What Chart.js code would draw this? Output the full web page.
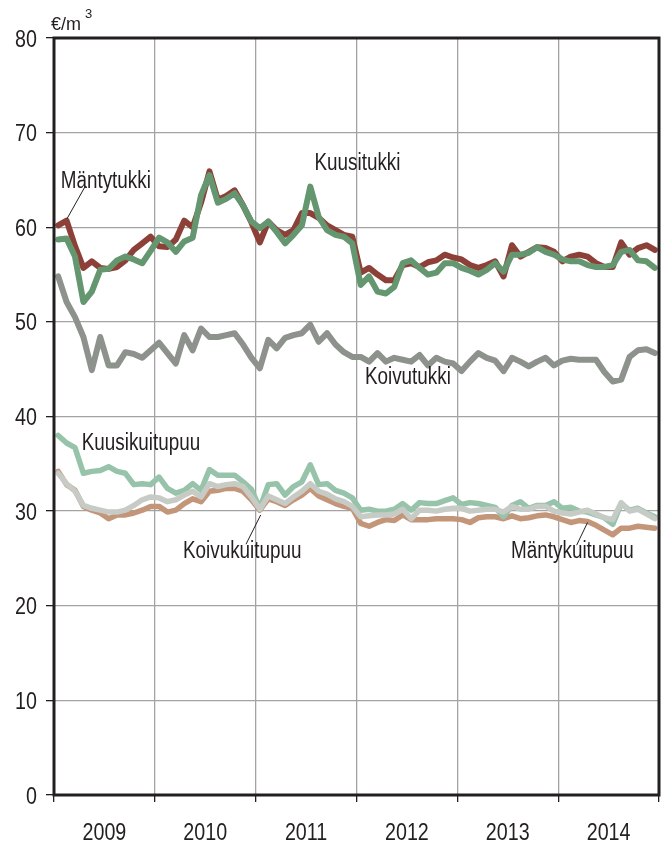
<!DOCTYPE html>
<html>
<head>
<meta charset="utf-8">
<title>Puun hinnat</title>
<script src="https://cdn.jsdelivr.net/npm/chart.js@4.4.1/dist/chart.umd.min.js"></script>
<style>
  html, body { margin: 0; padding: 0; background: #fff; }
  #wrap { width: 669px; height: 843px; }
</style>
</head>
<body>
<div id="wrap"><canvas id="chart"></canvas></div>
<script>
/* ------------------------------------------------------------- */
/* DATA (€/m3, monthly 2009–2014)                                */
/* ------------------------------------------------------------- */
const years = ['2009', '2010', '2011', '2012', '2013', '2014'];
const months = years.flatMap(y => ['01','02','03','04','05','06','07','08','09','10','11','12'].map(m => y + '-' + m));
const yTicks = [0, 10, 20, 30, 40, 50, 60, 70, 80];

const mantytukki = [
  60.2, 60.7, 58.0, 55.7, 56.4, 55.7, 55.6, 55.8, 56.5, 57.6, 58.3, 59.0,
  58.0, 57.9, 58.7, 60.7, 60.0, 62.6, 65.9, 62.9, 63.3, 63.9, 62.3, 60.5,
  58.4, 60.6, 59.7, 59.2, 59.7, 61.5, 61.5, 61.0, 60.2, 59.7, 59.2, 59.0,
  55.2, 55.7, 55.0, 54.4, 54.4, 56.0, 56.2, 55.8, 56.3, 56.5, 57.1, 56.8,
  56.6, 56.0, 55.7, 56.0, 56.4, 54.8, 58.1, 56.9, 57.4, 57.9, 57.8, 57.4,
  56.4, 56.9, 57.1, 56.9, 56.2, 55.8, 55.8, 58.4, 57.1, 57.8, 58.1, 57.6
];
const kuusitukki = [
  58.7, 58.8, 56.9, 52.1, 53.2, 55.5, 55.6, 56.5, 56.9, 56.6, 56.2, 57.5,
  58.9, 58.4, 57.4, 58.5, 58.9, 63.4, 65.5, 62.6, 63.0, 63.6, 62.3, 60.6,
  59.9, 60.6, 59.5, 58.3, 59.2, 60.2, 64.3, 61.1, 59.7, 59.2, 59.0, 58.3,
  53.9, 54.8, 53.2, 53.0, 53.7, 56.2, 56.5, 55.7, 55.0, 55.2, 56.2, 56.2,
  55.7, 55.4, 55.0, 55.5, 56.2, 55.3, 57.1, 57.1, 57.3, 57.9, 57.4, 57.1,
  56.6, 56.4, 56.4, 56.0, 55.8, 55.8, 56.0, 57.4, 57.6, 56.5, 56.4, 55.7
];
const koivutukki = [
  54.8, 52.1, 50.5, 48.4, 44.9, 48.4, 45.4, 45.4, 46.8, 46.6, 46.2, 47.0,
  47.8, 46.7, 45.6, 48.6, 47.0, 49.3, 48.4, 48.4, 48.6, 48.8, 47.6, 46.2,
  45.1, 48.1, 47.2, 48.3, 48.6, 48.8, 49.7, 47.9, 48.8, 47.6, 46.8, 46.3,
  46.3, 45.8, 46.7, 45.8, 46.2, 46.0, 45.8, 46.5, 45.4, 46.2, 45.8, 45.6,
  44.8, 45.8, 46.7, 46.2, 45.9, 44.8, 46.2, 45.8, 45.3, 45.8, 46.2, 45.4,
  45.9, 46.1, 46.0, 46.0, 46.0, 44.7, 43.7, 43.9, 46.3, 47.0, 47.1, 46.7
];
const kuusikuitupuu = [
  38.0, 37.2, 36.7, 34.0, 34.2, 34.3, 34.7, 34.2, 34.0, 32.8, 32.9, 32.8,
  33.6, 32.4, 31.9, 32.2, 32.9, 32.2, 34.4, 33.8, 33.8, 33.8, 33.1, 32.3,
  30.3, 32.8, 32.9, 31.7, 32.6, 33.1, 34.9, 32.8, 32.9, 32.2, 31.9, 31.4,
  30.1, 30.2, 30.0, 30.0, 30.2, 30.8, 30.1, 30.9, 30.8, 30.8, 31.1, 31.4,
  30.7, 30.9, 30.8, 30.6, 30.4, 29.4, 30.6, 31.0, 30.3, 30.6, 30.6, 31.0,
  30.3, 30.4, 30.0, 29.9, 29.6, 29.3, 28.6, 30.8, 30.1, 30.3, 29.8, 29.4
];
const mantykuitupuu = [
  34.2, 32.8, 32.2, 30.5, 30.1, 29.8, 29.2, 29.6, 29.6, 29.8, 30.1, 30.5,
  30.5, 29.9, 30.1, 30.8, 31.3, 31.0, 32.1, 32.2, 32.4, 32.4, 32.1, 31.2,
  30.1, 31.3, 31.0, 30.6, 31.2, 31.7, 32.4, 31.6, 31.2, 30.8, 30.5, 30.3,
  28.7, 28.4, 28.8, 29.1, 29.0, 29.6, 29.1, 29.1, 29.1, 29.2, 29.2, 29.2,
  29.1, 28.8, 29.3, 29.4, 29.4, 29.2, 29.5, 29.2, 29.3, 29.5, 29.6, 29.4,
  29.1, 28.8, 29.0, 28.9, 28.5, 28.0, 27.5, 28.2, 28.2, 28.4, 28.3, 28.2
];
const koivukuitupuu = [
  34.0, 32.9, 32.1, 30.6, 30.3, 30.1, 29.9, 29.9, 30.1, 30.6, 31.2, 31.5,
  31.4, 31.0, 31.2, 31.7, 32.1, 31.5, 32.9, 32.6, 32.8, 32.9, 32.6, 31.5,
  30.2, 31.6, 31.2, 30.8, 31.5, 32.1, 32.9, 32.1, 31.8, 31.3, 31.0, 30.5,
  29.4, 29.5, 29.6, 29.6, 29.7, 30.2, 29.2, 30.1, 30.1, 30.0, 30.2, 30.3,
  30.3, 30.0, 30.1, 30.2, 30.2, 29.9, 30.5, 30.2, 30.2, 30.5, 30.5, 30.0,
  29.8, 29.7, 29.9, 30.1, 29.7, 29.3, 29.1, 30.9, 30.0, 30.2, 29.7, 29.2
];

/* series labels: anchor in data units (month index, value) */
const seriesLabels = [
  { text: 'Mäntytukki',    m: 0.3,  v: 64.2, leader: [3.2, 64.3, 1.05, 60.9] },
  { text: 'Kuusitukki',    m: 30.5, v: 66.0 },
  { text: 'Koivutukki',    m: 36.5, v: 43.4 },
  { text: 'Kuusikuitupuu', m: 2.8,  v: 36.5 },
  { text: 'Koivukuitupuu', m: 14.85, v: 25.05, leader: [22.35, 26.5, 24.1, 29.6] },
  { text: 'Mäntykuitupuu', m: 53.9, v: 25.05, leader: [61.7, 26.4, 63.0, 28.8] }
];

/* ------------------------------------------------------------- */
/* STYLE                                                         */
/* ------------------------------------------------------------- */
const INK = '#231f20';
const GRID = '#a3a3a3';
const FONT = "'Liberation Sans', Arial, sans-serif";
const NARROW = 0.82;   // no narrow font installed, squeeze the regular one

function line(label, data, color, width) {
  return {
    label, data,
    borderColor: color,
    backgroundColor: color,
    borderWidth: width || 6,
    pointRadius: 0,
    tension: 0,
    borderJoinStyle: 'round',
    borderCapStyle: 'round',
    xAxisID: 'x'
  };
}

/* first dataset is drawn on top */
const datasets = [
  line('Kuusitukki', kuusitukki, '#64966f'),
  line('Mäntytukki', mantytukki, '#8c4038'),
  line('Koivutukki', koivutukki, '#8d928d'),
  line('Koivukuitupuu', koivukuitupuu, '#c6cbc6', 5.5),
  line('Kuusikuitupuu', kuusikuitupuu, '#96c3aa', 5.5),
  line('Mäntykuitupuu', mantykuitupuu, '#c3967a', 5.5)
];

function narrowText(ctx, text, x, y, align) {
  ctx.save();
  ctx.translate(x, y);
  ctx.scale(NARROW, 1);
  ctx.textAlign = align || 'left';
  ctx.fillText(text, 0, 0);
  ctx.restore();
}

/* ------------------------------------------------------------- */
/* PLUGINS: frame, tick texts, unit, series labels               */
/* ------------------------------------------------------------- */
const decorations = {
  id: 'decorations',
  afterDatasetsDraw(chart) {
    const { ctx, chartArea: a, scales } = chart;
    const px = m => scales.x.getPixelForValue(m);
    const py = v => scales.y.getPixelForValue(v);
    ctx.save();

    // black frame round the plot
    ctx.strokeStyle = INK;
    ctx.lineWidth = 3;
    ctx.strokeRect(a.left, a.top, a.right - a.left, a.bottom - a.top);

    ctx.fillStyle = INK;
    ctx.textBaseline = 'alphabetic';

    // tick labels
    ctx.font = '24px ' + FONT;
    yTicks.forEach(v => narrowText(ctx, String(v), 37, py(v) + 8.6, 'right'));
    years.forEach((y, i) => narrowText(ctx, y, scales.years.getPixelForValue(i), 840, 'center'));

    // unit
    ctx.textAlign = 'left';
    ctx.font = '18px ' + FONT;
    ctx.fillText('€/m', 51, 30);
    ctx.font = '13px ' + FONT;
    ctx.fillText('3', 85, 18);

    // series labels
    ctx.font = '23px ' + FONT;
    ctx.lineWidth = 1;
    seriesLabels.forEach(l => {
      narrowText(ctx, l.text, px(l.m), py(l.v), 'left');
      if (l.leader) {
        const [m1, v1, m2, v2] = l.leader;
        ctx.beginPath();
        ctx.moveTo(px(m1), py(v1));
        ctx.lineTo(px(m2), py(v2));
        ctx.stroke();
      }
    });
    ctx.restore();
  }
};

/* ------------------------------------------------------------- */
/* CHART                                                         */
/* ------------------------------------------------------------- */
new Chart(document.getElementById('chart'), {
  type: 'line',
  data: { labels: months, datasets },
  options: {
    responsive: true,
    maintainAspectRatio: false,
    animation: false,
    layout: { padding: { top: 38, right: 10, left: 0, bottom: 0 } },
    plugins: { legend: { display: false }, tooltip: { enabled: false } },
    scales: {
      x: {
        type: 'category',
        display: false,
        offset: true
      },
      years: {
        type: 'category',
        labels: years,
        position: 'bottom',
        offset: true,
        grid: {
          offset: true,
          color: GRID,
          lineWidth: 1.3,
          tickColor: INK,
          tickWidth: 1.3,
          tickLength: 7
        },
        border: { display: false },
        ticks: { color: 'rgba(0,0,0,0)', font: { family: FONT, size: 24 }, maxRotation: 0, autoSkip: false },
        afterFit: s => { s.height = 48; }
      },
      y: {
        min: 0,
        max: 80,
        afterBuildTicks: s => { s.ticks = yTicks.map(v => ({ value: v })); },
        grid: {
          color: GRID,
          lineWidth: 1.3,
          tickColor: INK,
          tickWidth: 1.3,
          tickLength: 8
        },
        border: { display: false },
        ticks: { color: 'rgba(0,0,0,0)', font: { family: FONT, size: 24 }, padding: 9 },
        afterFit: s => { s.width = 54; }
      }
    }
  },
  plugins: [decorations]
});
</script>
</body>
</html>
